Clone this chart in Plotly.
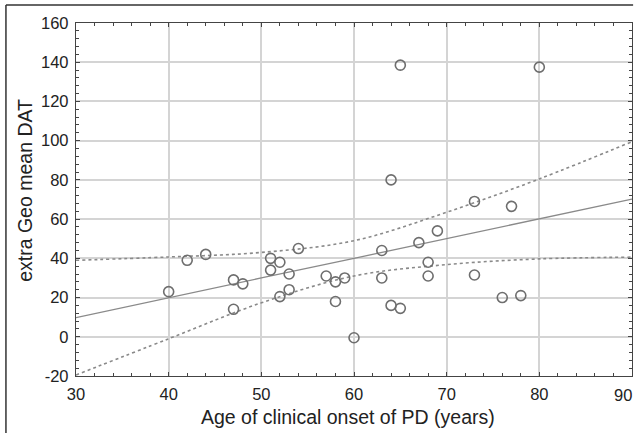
import plotly.graph_objects as go

# Scatter data: age of clinical onset (years) vs extra Geo mean DAT
age = [40, 42, 44, 47, 47, 48, 51, 51, 52, 52, 53, 53, 54, 57, 58, 58, 59, 60,
       63, 63, 64, 64, 65, 65, 67, 68, 68, 69, 73, 73, 76, 77, 78, 80]
dat = [23, 39, 42, 29, 14, 27, 40, 34, 38, 20.5, 32, 24, 45, 31, 28, 18, 30, -0.5,
       44, 30, 80, 16, 14.5, 138.5, 48, 38, 31, 54, 69, 31.5, 20, 66.5, 21, 137.5]

# Regression line and 95% confidence band
fit_x = [30, 40, 50, 60, 70, 80, 90]
fit_y = [9.8, 20, 30, 40, 50, 60, 70.2]
upper = [39, 40.7, 43, 49, 63.5, 80.5, 99.5]
lower = [-19.5, -1, 17.3, 31, 36.8, 39.7, 40.6]

x_ticks = [30, 40, 50, 60, 70, 80, 90]
x_labels = ["30", "40", "50", "60", "70", "80", "90"]
y_ticks = [-20, 0, 20, 40, 60, 80, 100, 120, 140, 160]
y_labels = ["-20", "0", "20", "40", "60", "80", "100", "120", "140", "160"]

x_title = "Age of clinical onset of PD (years)"
y_title = "extra Geo mean DAT"

fig = go.Figure()
band_style = dict(color="#8a8a8a", width=1.6, dash="3px,3px", shape="spline")
fig.add_trace(go.Scatter(x=fit_x, y=upper, mode="lines", line=band_style, hoverinfo="skip"))
fig.add_trace(go.Scatter(x=fit_x, y=lower, mode="lines", line=band_style, hoverinfo="skip"))
fig.add_trace(go.Scatter(x=fit_x, y=fit_y, mode="lines",
                         line=dict(color="#8a8a8a", width=1.3), hoverinfo="skip"))
fig.add_trace(go.Scatter(x=age, y=dat, mode="markers",
                         marker=dict(symbol="circle-open", size=10,
                                     line=dict(color="#6e6e6e", width=1.6),
                                     color="#6e6e6e")))

font = dict(family="Liberation Sans, Arial, sans-serif", color="#222222")
common = dict(showgrid=True, gridcolor="#d4d4d4", gridwidth=1.5,
              showline=True, linecolor="#444444", linewidth=1.3, mirror="allticks",
              ticks="inside", ticklen=4, tickcolor="#444444", tickwidth=1,
              zeroline=False, tickfont=dict(size=16.5, **font))

# The last x label ("90") sits flush with the right edge, as in the reference
fig.update_xaxes(range=[30, 90], tickvals=x_ticks, ticktext=x_labels[:-1] + [""],
                 ticklabelstandoff=3,
                 minor=dict(dtick=2, ticks="inside", ticklen=3, tickcolor="#444444", showgrid=False),
                 **common)
fig.update_yaxes(range=[-20, 160], tickvals=y_ticks, ticktext=y_labels, ticklabelstandoff=3,
                 minor=dict(dtick=4, ticks="inside", ticklen=3, tickcolor="#444444", showgrid=False),
                 **common)

fig.add_annotation(text=x_labels[-1], xref="x", yref="paper", x=x_ticks[-1], y=0,
                   xanchor="right", yanchor="middle", xshift=2, yshift=-18.5,
                   showarrow=False, font=dict(size=16.5, **font))
fig.add_annotation(text=x_title, xref="paper", yref="paper", x=0.490, y=0,
                   xanchor="center", yanchor="middle", yshift=-41, showarrow=False,
                   font=dict(size=19.5, **font))
fig.add_annotation(text=y_title, xref="paper", yref="paper", x=0, y=0.526,
                   xanchor="center", yanchor="middle", xshift=-50.5, textangle=-90,
                   showarrow=False, font=dict(size=19.5, **font))

# Partial outer frame (top and left edges)
fig.add_shape(type="line", xref="paper", yref="paper", x0=-0.126, x1=1.002, y0=1.051, y1=1.051,
              line=dict(color="#333333", width=1.5))
fig.add_shape(type="line", xref="paper", yref="paper", x0=-0.126, x1=-0.126, y0=1.051, y1=-0.2,
              line=dict(color="#333333", width=1.5))

fig.update_layout(width=639, height=433, showlegend=False,
                  plot_bgcolor="white", paper_bgcolor="white",
                  margin=dict(l=76, r=7, t=23, b=57, autoexpand=False),
                  font=font)

fig.write_html("out.html", config={"displayModeBar": False},
               post_script="document.body.style.margin='0';")
